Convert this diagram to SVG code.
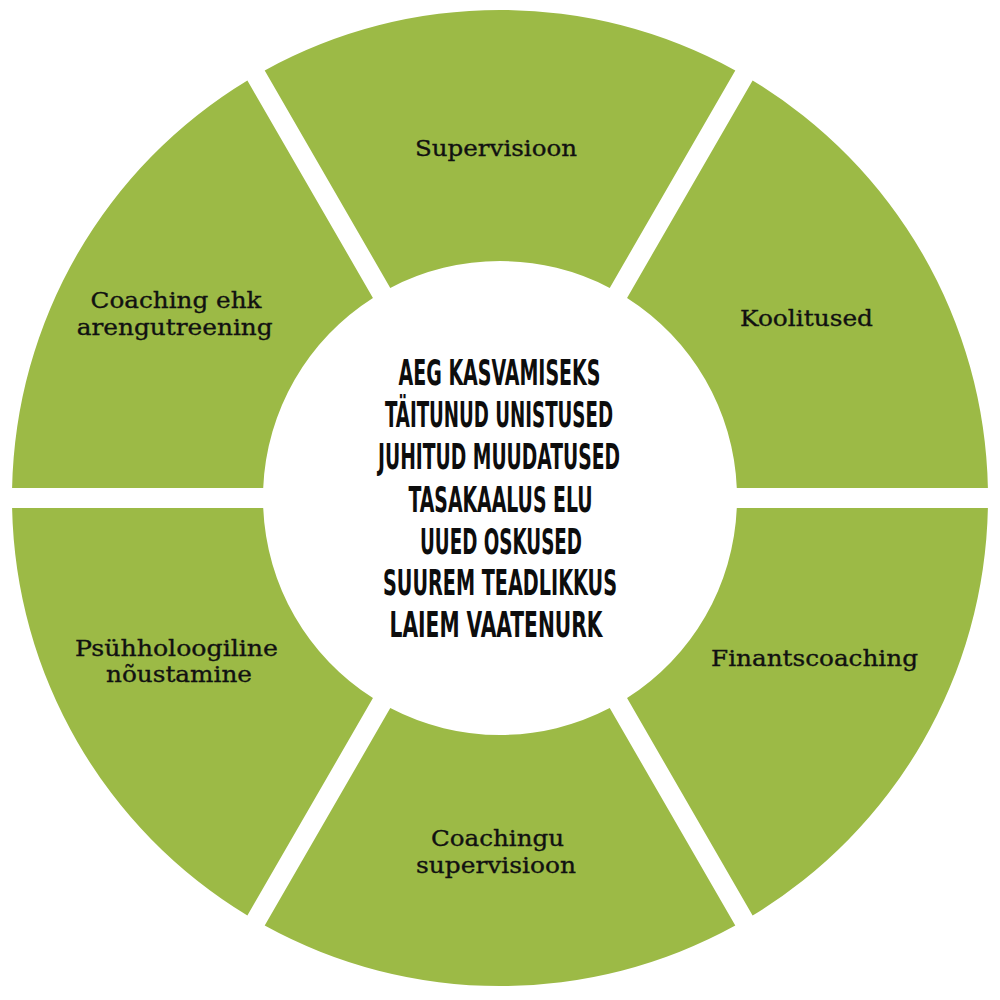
<svg xmlns="http://www.w3.org/2000/svg" width="1000" height="1000" viewBox="0 0 1000 1000">
<style>
.seg{fill:#9CBA46;}
.lbl{font-family:"DejaVu Serif","Liberation Serif",serif;font-size:22.5px;fill:#111;stroke:#111;stroke-width:0.35px;text-anchor:middle;}
.ctr{font-family:"DejaVu Sans Condensed","DejaVu Sans","Liberation Sans",sans-serif;font-weight:bold;font-size:35px;fill:#0d0d0d;text-anchor:middle;}
</style>
<rect width="1000" height="1000" fill="#ffffff"/>
<g id="connectors"></g>
<g id="node-supervisioon">
<path class="seg" d="M 735.29 70.47 A 488 488 0 0 0 264.71 70.47 L 390.27 287.94 A 237 237 0 0 1 609.73 287.94 Z"/>
<text class="lbl" x="496" y="156" textLength="162" lengthAdjust="spacingAndGlyphs">Supervisioon</text>
</g>
<g id="node-koolitused">
<path class="seg" d="M 987.90 488 A 488 488 0 0 0 752.61 80.47 L 627.05 297.94 A 237 237 0 0 1 736.79 488 Z"/>
<text class="lbl" x="806.5" y="325.5" textLength="133" lengthAdjust="spacingAndGlyphs">Koolitused</text>
</g>
<g id="node-finantscoaching">
<path class="seg" d="M 752.61 915.53 A 488 488 0 0 0 987.90 508 L 736.79 508 A 237 237 0 0 1 627.05 698.07 Z"/>
<text class="lbl" x="814.5" y="666" textLength="207" lengthAdjust="spacingAndGlyphs">Finantscoaching</text>
</g>
<g id="node-coachingu-supervisioon">
<path class="seg" d="M 264.71 925.53 A 488 488 0 0 0 735.29 925.53 L 609.73 708.07 A 237 237 0 0 1 390.27 708.07 Z"/>
<text class="lbl" x="497.5" y="846" textLength="133" lengthAdjust="spacingAndGlyphs">Coachingu</text>
<text class="lbl" x="496" y="872.5" textLength="160" lengthAdjust="spacingAndGlyphs">supervisioon</text>
</g>
<g id="node-psuhholoogiline">
<path class="seg" d="M 12.10 508 A 488 488 0 0 0 247.39 915.53 L 372.95 698.07 A 237 237 0 0 1 263.21 508 Z"/>
<text class="lbl" x="176.5" y="655.7" textLength="203" lengthAdjust="spacingAndGlyphs">Psühholoogiline</text>
<text class="lbl" x="179" y="682.3" textLength="146" lengthAdjust="spacingAndGlyphs">nõustamine</text>
</g>
<g id="node-coaching-ehk">
<path class="seg" d="M 247.39 80.47 A 488 488 0 0 0 12.10 488 L 263.21 488 A 237 237 0 0 1 372.95 297.94 Z"/>
<text class="lbl" x="176" y="308" textLength="171" lengthAdjust="spacingAndGlyphs">Coaching ehk</text>
<text class="lbl" x="174.7" y="334.5" textLength="196" lengthAdjust="spacingAndGlyphs">arengutreening</text>
</g>
<g id="node-center">
<text class="ctr" x="499.5" y="385" textLength="202" lengthAdjust="spacingAndGlyphs">AEG KASVAMISEKS</text>
<text class="ctr" x="499" y="426.5" textLength="228" lengthAdjust="spacingAndGlyphs">TÄITUNUD UNISTUSED</text>
<text class="ctr" x="499" y="468.5" textLength="242" lengthAdjust="spacingAndGlyphs">JUHITUD MUUDATUSED</text>
<text class="ctr" x="500.5" y="511.5" textLength="184" lengthAdjust="spacingAndGlyphs">TASAKAALUS ELU</text>
<text class="ctr" x="501" y="553.5" textLength="162" lengthAdjust="spacingAndGlyphs">UUED OSKUSED</text>
<text class="ctr" x="500" y="595" textLength="234" lengthAdjust="spacingAndGlyphs">SUUREM TEADLIKKUS</text>
<text class="ctr" x="496" y="636.5" textLength="213" lengthAdjust="spacingAndGlyphs">LAIEM VAATENURK</text>
</g>
</svg>
